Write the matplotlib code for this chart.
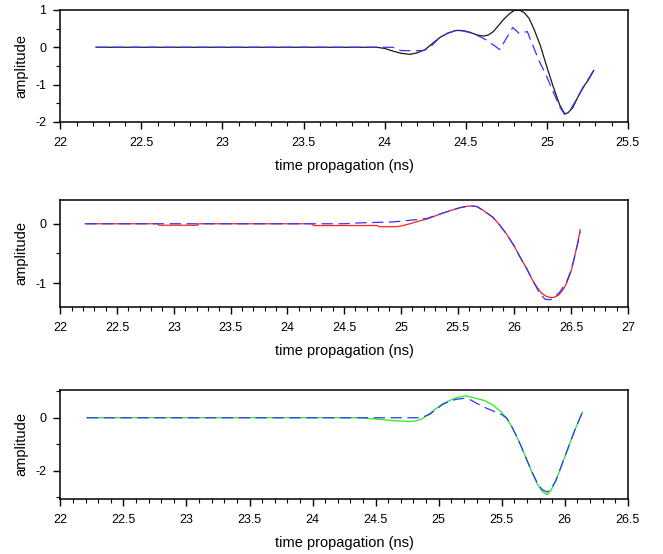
import matplotlib
matplotlib.use('Agg')
import matplotlib.pyplot as plt
from matplotlib.ticker import MultipleLocator

plt.rcParams['font.family'] = ['Liberation Sans', 'DejaVu Sans']

# panel 1: black (solid) vs blue (dashed)
t1_black = [22.22, 23.95, 24.0, 24.05, 24.1, 24.155, 24.2, 24.25, 24.3, 24.34, 24.39, 24.44,
            24.48, 24.52, 24.57, 24.61, 24.64, 24.67, 24.70, 24.73, 24.77, 24.80, 24.83,
            24.86, 24.89, 24.92, 24.96, 25.0, 25.04, 25.08, 25.11, 25.13, 25.16, 25.19,
            25.22, 25.26, 25.29]
a1_black = [0.0, 0.0, -0.03, -0.1, -0.16, -0.19, -0.15, -0.06, 0.12, 0.26, 0.38, 0.45,
            0.45, 0.41, 0.33, 0.3, 0.33, 0.42, 0.57, 0.73, 0.9, 0.99, 1.0,
            0.93, 0.78, 0.5, 0.05, -0.52, -1.06, -1.55, -1.78, -1.76, -1.62, -1.35,
            -1.1, -0.85, -0.62]
t1_blue = [22.22, 24.05, 24.1, 24.24, 24.28, 24.34, 24.39, 24.44, 24.48, 24.52, 24.58, 24.63,
           24.71, 24.79, 24.83, 24.88, 24.95, 25.0, 25.04, 25.08, 25.11, 25.14, 25.18,
           25.24, 25.29]
a1_blue = [0.0, 0.0, -0.09, -0.09, 0.0, 0.26, 0.38, 0.45, 0.44, 0.4, 0.3, 0.19,
           -0.06, 0.53, 0.37, 0.42, -0.34, -0.79, -1.2, -1.6, -1.8, -1.72, -1.42,
           -0.97, -0.61]

# panel 2: red (solid) vs blue (dashed)
t2_red = [22.22, 22.86, 22.87, 23.21, 23.22, 24.22, 24.23, 24.79, 24.81, 24.96, 25.02, 25.08,
          25.15, 25.23, 25.3, 25.37, 25.45, 25.52, 25.57, 25.61, 25.67, 25.73, 25.81, 25.87,
          25.93, 26.0, 26.05, 26.11, 26.16, 26.2, 26.24, 26.28, 26.31, 26.35, 26.39, 26.43,
          26.46, 26.5, 26.53, 26.56, 26.58]
a2_red = [0.0, 0.0, -0.025, -0.025, 0.0, 0.0, -0.03, -0.03, -0.05, -0.05, -0.03, 0.0,
          0.04, 0.08, 0.13, 0.18, 0.23, 0.27, 0.29, 0.3, 0.29, 0.22, 0.11, -0.02,
          -0.17, -0.38, -0.56, -0.76, -0.95, -1.07, -1.17, -1.22, -1.24, -1.24, -1.2, -1.11,
          -1.0, -0.8, -0.56, -0.3, -0.1]
t2_blue = [22.22, 24.5, 24.64, 24.93, 25.14, 25.23, 25.37, 25.52, 25.61, 25.67, 25.73, 25.81,
           25.87, 25.93, 26.0, 26.05, 26.11, 26.16, 26.22, 26.27, 26.31, 26.34, 26.40,
           26.46, 26.5, 26.53, 26.56, 26.58]
a2_blue = [0.0, 0.0, 0.015, 0.03, 0.07, 0.09, 0.18, 0.27, 0.3, 0.29, 0.22, 0.11,
           -0.02, -0.17, -0.38, -0.56, -0.76, -0.95, -1.16, -1.27, -1.28, -1.26, -1.15,
           -0.98, -0.78, -0.56, -0.32, -0.13]

# panel 3: green (solid) vs blue (dashed)
t3_green = [22.21, 24.37, 24.45, 24.53, 24.64, 24.77, 24.82, 24.87, 24.93, 24.98, 25.03,
            25.09, 25.14, 25.21, 25.26, 25.3, 25.37, 25.43, 25.49, 25.54, 25.58, 25.62, 25.66,
            25.7, 25.74, 25.78, 25.82, 25.86, 25.89, 25.93, 25.97, 26.01, 26.05, 26.09, 26.14]
a3_green = [0.0, 0.0, -0.03, -0.06, -0.11, -0.14, -0.12, -0.04, 0.17, 0.35, 0.52,
            0.66, 0.76, 0.83, 0.78, 0.73, 0.64, 0.48, 0.25, -0.02, -0.34, -0.72, -1.15,
            -1.61, -2.07, -2.49, -2.78, -2.91, -2.75, -2.37, -1.86, -1.35, -0.84, -0.34, 0.21]
t3_blue = [22.21, 24.86, 24.93, 24.98, 25.03, 25.09, 25.14, 25.21, 25.26, 25.3, 25.34, 25.38,
           25.46, 25.5, 25.54, 25.58, 25.62, 25.66, 25.7, 25.74, 25.78, 25.82, 25.86, 25.89,
           25.93, 25.97, 26.01, 26.05, 26.09, 26.14]
a3_blue = [0.0, 0.0, 0.13, 0.32, 0.5, 0.63, 0.7, 0.74, 0.66, 0.55, 0.45, 0.36,
           0.2, 0.12, -0.02, -0.34, -0.72, -1.15, -1.61, -2.05, -2.45, -2.72, -2.81, -2.7,
           -2.37, -1.86, -1.35, -0.84, -0.34, 0.21]

xlims = [(22, 25.5), (22, 27), (22, 26.5)]
ylims = [(-2, 1), (-1.4, 0.4), (-3.06, 1.05)]
ymajor = [1, 1, 2]
yminor = [0.5, 0.5, 1]
solid_colors = ['#1a1a1a', '#ff2020', '#20ee20']
blue = '#3333ff'

fig = plt.figure(figsize=(6.63, 5.54), dpi=100)
boxes = [[0.091, 0.780, 0.856, 0.202],
         [0.091, 0.446, 0.856, 0.193],
         [0.091, 0.100, 0.856, 0.196]]
data = [(t1_black, a1_black, t1_blue, a1_blue),
        (t2_red, a2_red, t2_blue, a2_blue),
        (t3_green, a3_green, t3_blue, a3_blue)]

for i in range(3):
    ax = fig.add_axes(boxes[i])
    ts, as_, tb, ab = data[i]
    ax.plot(ts, as_, color=solid_colors[i], lw=0.9)
    ax.plot(tb, ab, color=blue, lw=0.9, dashes=(9, 4.5))
    ax.set_xlim(*xlims[i])
    ax.set_ylim(*ylims[i])
    ax.xaxis.set_major_locator(MultipleLocator(0.5))
    ax.xaxis.set_minor_locator(MultipleLocator(0.1))
    ax.yaxis.set_major_locator(MultipleLocator(ymajor[i]))
    ax.yaxis.set_minor_locator(MultipleLocator(yminor[i]))
    ax.xaxis.set_major_formatter(plt.FuncFormatter(lambda v, p: '%g' % v))
    ax.yaxis.set_major_formatter(plt.FuncFormatter(lambda v, p: '%g' % v))
    ax.tick_params(which='major', direction='out', length=5, width=1, labelsize=9, pad=6)
    ax.tick_params(which='minor', direction='out', length=3, width=0.8)
    ax.tick_params(axis='y', pad=5)
    for s in ax.spines.values():
        s.set_linewidth(1.1)
    ax.set_xlabel('time propagation (ns)', fontsize=10.5, labelpad=7)
    ax.set_ylabel('amplitude', fontsize=10.5, labelpad=5)

fig.savefig('out.png', dpi=100)
